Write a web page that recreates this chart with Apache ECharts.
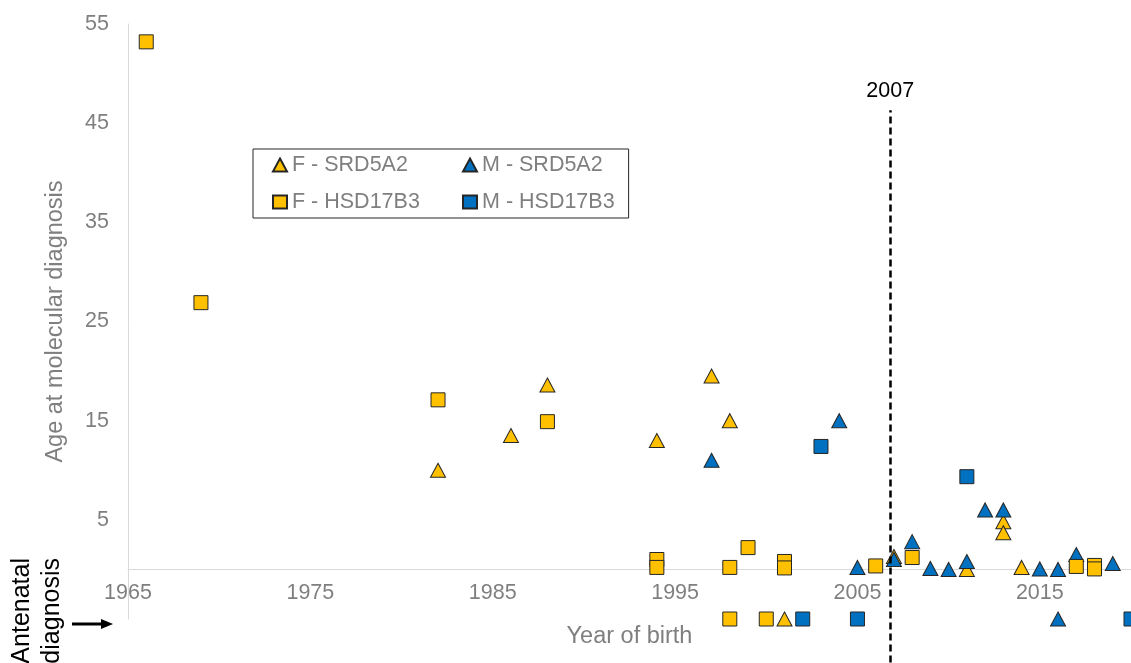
<!DOCTYPE html>
<html>
<head>
<meta charset="utf-8">
<title>Age at molecular diagnosis by year of birth</title>
<script src="https://cdn.jsdelivr.net/npm/echarts@6/dist/echarts.min.js"></script>
<style>
    html, body {
        margin: 0;
        padding: 0;
        background: #ffffff;
    }

    #chart {
        width: 1131px;
        height: 663px;
    }
</style>
</head>
<body>
<div id="chart"></div>
<script>
// tick labels shown on the axes
const X_TICKS = [1965, 1975, 1985, 1995, 2005, 2015]
const Y_TICKS = [5, 15, 25, 35, 45, 55]

// [year of birth, age at molecular diagnosis]; -5 = antenatal diagnosis
const fSrd5a2 = [
    [1982, 10], [1986, 13.5], [1988, 18.6], [1994, 13], [1997, 19.5], [1998, 15],
    [2007, 1.3], [2011, 0], [2013, 4.8], [2013, 3.7], [2014, 0.2], [2001, -5]
]
const mSrd5a2 = [
    [1997, 11], [2004, 15], [2005, 0.2], [2007, 1.0], [2008, 2.8], [2009, 0.1],
    [2010, 0], [2011, 0.8], [2012, 6], [2013, 6], [2015, 0.05], [2016, 0],
    [2017, 1.5], [2019, 0.6], [2016, -5]
]
const fHsd17b3 = [
    [1966, 53.2], [1969, 26.9], [1982, 17.1], [1988, 14.9], [1994, 1], [1994, 0.2],
    [1998, 0.2], [1999, 2.2], [2001, 0.8], [2001, 0.15], [2006, 0.35], [2008, 1.2],
    [2017, 0.3], [2018, 0.4], [2018, 0.05], [1998, -5], [2000, -5]
]
const mHsd17b3 = [
    [2003, 12.4], [2011, 9.35], [2002, -5], [2005, -5], [2020, -5]
]

// dashed reference line (drawn slightly left of 2007 in the original)
const cutoffLabel = '2007'
const cutoffX = 2006.8
const cutoffTop = 46.3

const FONT = "'Liberation Sans', Arial, sans-serif"
const GREY = '#7f7f7f'
const YELLOW = '#ffc000'
const BLUE = '#0070c0'

const chart = echarts.init(document.getElementById('chart'))

function scatterSeries(name, data, symbol, color, size) {
    return {
        name: name,
        type: 'scatter',
        data: data,
        symbol: symbol,
        symbolSize: size,
        z: 3,
        itemStyle: {
            color: color,
            borderColor: '#262626',
            borderWidth: 1,
            opacity: 1
        }
    }
}

const option = {
    animation: false,
    backgroundColor: '#ffffff',
    grid: [
        { left: 128, right: 0, top: 24, bottom: 44, outerBoundsMode: 'none' },
        // same horizontal scale, taller box: lets the dashed line run to the bottom edge
        { left: 128, right: 0, top: 24, bottom: 0, outerBoundsMode: 'none' },
        // box ending at age 0: carries the year labels and axis name just under the zero line
        { left: 128, right: 0, top: 24, bottom: 93.5, outerBoundsMode: 'none' }
    ],
    legend: {
        data: ['F - SRD5A2', 'M - SRD5A2', 'F - HSD17B3', 'M - HSD17B3'],
        left: 253,
        top: 149,
        width: 345,
        orient: 'horizontal',
        padding: [0, 14, 0, 19],
        itemGap: 5,
        itemWidth: 14,
        itemHeight: 13,
        borderColor: '#262626',
        borderWidth: 1,
        borderRadius: 0,
        selectedMode: false,
        formatter(name) {
            return name.charAt(0) === 'F' ? '{f|' + name + '}' : '{m|' + name + '}'
        },
        textStyle: {
            color: GREY,
            fontFamily: FONT,
            fontSize: 21.5,
            lineHeight: 32,
            rich: {
                f: { width: 165, color: GREY, fontFamily: FONT, fontSize: 21.5, lineHeight: 32 },
                m: { color: GREY, fontFamily: FONT, fontSize: 21.5, lineHeight: 32 }
            }
        }
    },
    xAxis: [
        {
            type: 'value',
            gridIndex: 0,
            min: 1965,
            max: 2020,
            axisLine: { onZero: true, lineStyle: { color: '#d9d9d9', width: 1 } },
            axisTick: { show: false },
            splitLine: { show: false },
            axisLabel: { show: false }
        },
        { type: 'value', gridIndex: 1, min: 1965, max: 2020, show: false },
        {
            type: 'value',
            gridIndex: 2,
            min: 1965,
            max: 2020,
            name: 'Year of birth',
            nameLocation: 'middle',
            nameGap: 55,
            nameTextStyle: { color: GREY, fontFamily: FONT, fontSize: 23.5 },
            axisLine: { show: false },
            axisTick: { show: false },
            splitLine: { show: false },
            axisLabel: {
                customValues: X_TICKS,
                formatter: value => String(value),
                margin: 13,
                color: GREY,
                fontFamily: FONT,
                fontSize: 21.5
            }
        }
    ],
    yAxis: [
        {
            type: 'value',
            gridIndex: 0,
            min: -5,
            max: 55,
            name: 'Age at molecular diagnosis',
            nameLocation: 'middle',
            nameGap: 60,
            nameTextStyle: { color: GREY, fontFamily: FONT, fontSize: 23.5 },
            axisLine: { show: true, lineStyle: { color: '#d9d9d9', width: 1 } },
            axisTick: { show: false },
            splitLine: { show: false },
            axisLabel: {
                customValues: Y_TICKS,
                formatter: value => String(value),
                margin: 19,
                color: GREY,
                fontFamily: FONT,
                fontSize: 21.5
            }
        },
        { type: 'value', gridIndex: 1, min: -9.44, max: 55, show: false },
        { type: 'value', gridIndex: 2, min: 0, max: 55, show: false }
    ],
    series: [
        scatterSeries('F - SRD5A2', fSrd5a2, 'triangle', YELLOW, [15, 14]),
        scatterSeries('M - SRD5A2', mSrd5a2, 'triangle', BLUE, [15, 14]),
        scatterSeries('F - HSD17B3', fHsd17b3, 'rect', YELLOW, 14),
        scatterSeries('M - HSD17B3', mHsd17b3, 'rect', BLUE, 14),
        {
            type: 'scatter',
            xAxisIndex: 1,
            yAxisIndex: 1,
            data: [],
            silent: true,
            z: 1,
            markLine: {
                silent: true,
                symbol: ['none', 'none'],
                lineStyle: { color: '#000000', type: [7, 4], width: 2.5 },
                label: {
                    show: true,
                    position: 'end',
                    distance: 8,
                    formatter: cutoffLabel,
                    color: '#000000',
                    fontFamily: FONT,
                    fontSize: 21.5
                },
                data: [[{ coord: [cutoffX, -9.4] }, { coord: [cutoffX, cutoffTop] }]]
            }
        }
    ],
    graphic: [
        {
            type: 'text',
            x: 37,
            y: 558,
            rotation: Math.PI / 2,
            style: {
                text: 'Antenatal\ndiagnosis',
                fill: '#000000',
                fontFamily: FONT,
                fontSize: 25,
                lineHeight: 30,
                align: 'right',
                verticalAlign: 'middle'
            }
        },
        {
            type: 'line',
            shape: { x1: 72, y1: 624, x2: 104, y2: 624 },
            style: { stroke: '#000000', lineWidth: 3 }
        },
        {
            type: 'polygon',
            shape: { points: [[101, 619], [113, 624], [101, 629]] },
            style: { fill: '#000000' }
        }
    ]
}

chart.setOption(option)
</script>
</body>
</html>
